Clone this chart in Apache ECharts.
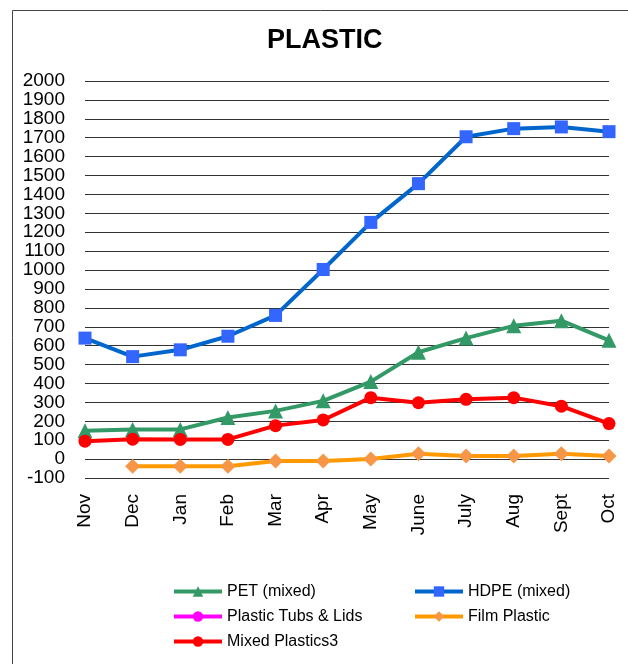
<!DOCTYPE html>
<html>
<head>
<meta charset="utf-8">
<script src="https://cdn.jsdelivr.net/npm/echarts@6/dist/echarts.min.js"></script>
<style>
html,body{margin:0;padding:0;background:#fff;}
#chart{width:628px;height:664px;}
</style>
</head>
<body>
<div id="chart"></div>
<script>
var months = ['Nov','Dec','Jan','Feb','Mar','Apr','May','June','July','Aug','Sept','Oct'];
var petMixed = [150,157,157,220,255,308,410,565,640,705,732,628];
var hdpeMixed = [640,542,578,650,760,1003,1252,1457,1705,1748,1757,1732];
var tubsLids = [null,null,null,null,null,null,null,null,null,null,null,null];
var filmPlastic = [null,-38,-38,-38,-10,-10,0,28,17,17,28,17];
var mixedPlastics3 = [95,105,104,104,177,207,325,298,316,325,280,188];

var FONT = '"Liberation Sans", Arial, sans-serif';
var chart = echarts.init(document.getElementById('chart'));

function mk(name, data, lineColor, markColor, symbol, size) {
  return {
    name: name, type: 'line', data: data,
    symbol: symbol, symbolSize: size,
    showSymbol: true,
    lineStyle: {color: lineColor, width: 4},
    itemStyle: {color: markColor},
    emphasis: {disabled: true},
    animation: false
  };
}

var legendCommon = {
  orient: 'vertical', top: 578,
  itemWidth: 48, itemHeight: 13, itemGap: 8,
  lineStyle: {width: 4},
  textStyle: {fontFamily: FONT, fontSize: 16, color: '#000', lineHeight: 17}
};

chart.setOption({
  animation: false,
  graphic: [{
    type: 'rect', left: 10, top: 8,
    shape: {width: 700, height: 700},
    style: {fill: 'none', stroke: '#444', lineWidth: 1},
    silent: true, z: -1
  }],
  title: {
    text: 'PLASTIC', left: 262, top: 22,
    textStyle: {fontFamily: FONT, fontSize: 27, fontWeight: 'bold', color: '#000'}
  },
  legend: [
    Object.assign({}, legendCommon, {left: 167, data: ['PET (mixed)', 'Plastic Tubs & Lids', 'Mixed Plastics3']}),
    Object.assign({}, legendCommon, {left: 408, data: ['HDPE (mixed)', 'Film Plastic']})
  ],
  grid: {left: 85, right: 19, top: 81, bottom: 186, containLabel: false},
  xAxis: {
    type: 'category', data: months, boundaryGap: false,
    axisLine: {show: false}, axisTick: {show: false},
    axisLabel: {rotate: 90, margin: 16, fontFamily: FONT, fontSize: 19, color: '#000', interval: 0},
    splitLine: {show: false}
  },
  yAxis: {
    type: 'value', min: -100, max: 2000, interval: 100,
    axisLine: {show: false}, axisTick: {show: false},
    axisLabel: {margin: 20, fontFamily: FONT, fontSize: 19, color: '#000',
      showMinLabel: true, showMaxLabel: true, hideOverlap: false,
      formatter: function (v) { return String(v); }},
    splitLine: {show: true, lineStyle: {color: '#333', width: 1}}
  },
  series: [
    mk('PET (mixed)', petMixed, '#339966', '#339966', 'triangle', 15),
    mk('HDPE (mixed)', hdpeMixed, '#0066cc', '#3366ff', 'rect', 13),
    mk('Plastic Tubs & Lids', tubsLids, '#ff00ff', '#ff00ff', 'circle', 12),
    mk('Film Plastic', filmPlastic, '#ff9900', '#f79646', 'diamond', 15),
    mk('Mixed Plastics3', mixedPlastics3, '#ff0000', '#ff0000', 'circle', 13)
  ]
});
</script>
</body>
</html>
